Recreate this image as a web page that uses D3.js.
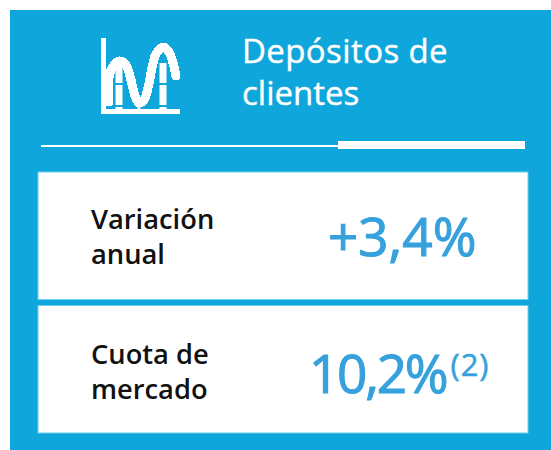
<!DOCTYPE html>
<html>
<head>
<meta charset="utf-8">
<script src="https://cdn.jsdelivr.net/npm/d3@7"></script>
<style>
  html, body { margin: 0; padding: 0; background: #fff; }
  svg { display: block; }
  text { font-family: "Open Sans", sans-serif; }
</style>
</head>
<body>
<script>
const width = 551, height = 450;

const titleLines = ["Depósitos de", "clientes"];
const rowLabels = [["Variación", "anual"], ["Cuota de", "mercado"]];
const rowValues = ["+3,4%", "10,2%"];
const rowNotes = ["", "(2)"];

// icon curve, in icon pixels
const iconCurveX = [3, 3, 6, 13, 20, 25, 29, 33, 38, 42, 46, 50, 57, 63, 67, 70];
const iconCurveY = [64, 40, 30, 23, 27, 42, 58, 65, 62, 50, 30, 16, 9, 14, 25, 38];
const iconDropsX = [13, 33, 57];

const blue = "#0fa6dc";
const valueBlue = "#36a1dc";

const svg = d3.select("body").append("svg")
  .attr("width", width)
  .attr("height", height);

svg.append("rect")
  .attr("x", 10).attr("y", 10)
  .attr("width", 541).attr("height", 440)
  .attr("fill", blue);

// Icon
const iconX = d3.scaleLinear().domain([0, 72]).range([106, 178]);
const iconY = d3.scaleLinear().domain([0, 72]).range([38, 110]);
const icon = svg.append("g").attr("fill", "none").attr("stroke", "#fff");

icon.append("path")
  .attr("d", `M${iconX(-2.5)},${iconY(0)}V${iconY(73.5)}H${iconX(74)}`)
  .attr("stroke-width", 5);

icon.append("path")
  .attr("d", d3.line()
    .x((d, i) => iconX(iconCurveX[i]))
    .y(d => iconY(d))
    .curve(d3.curveCatmullRom)(iconCurveY))
  .attr("stroke-width", 9)
  .attr("stroke-linecap", "round")
  .attr("shape-rendering", "crispEdges");

icon.selectAll("line.drop")
  .data(iconDropsX)
  .join("line")
    .attr("class", "drop")
    .attr("x1", d => iconX(d))
    .attr("x2", d => iconX(d))
    .attr("y1", d => d === 33 ? iconY(65) : iconY(25))
    .attr("y2", iconY(72))
    .attr("stroke-width", d => d === 33 ? 3 : 7)
    .attr("stroke-dasharray", d => d === 33 ? null : "20 2");

// Title
svg.append("text")
  .attr("fill", "#fff")
  .attr("stroke", "#fff")
  .attr("stroke-width", 0.4)
  .attr("font-size", 33)
  .selectAll("tspan")
  .data(titleLines)
  .join("tspan")
    .attr("x", 242)
    .attr("y", (d, i) => 63 + i * 42)
    .attr("letter-spacing", (d, i) => i === 0 ? 0.4 : 0)
    .text(d => d);

// Rule under the title
svg.append("rect").attr("x", 41).attr("y", 145).attr("width", 298).attr("height", 2).attr("fill", "#fff");
svg.append("rect").attr("x", 338).attr("y", 141).attr("width", 187).attr("height", 8).attr("fill", "#fff");

// Rows
const rowY = d3.scaleBand().domain(d3.range(rowLabels.length)).range([172, 433]).paddingInner(0.045);

const row = svg.selectAll("g.row")
  .data(rowLabels)
  .join("g")
    .attr("class", "row")
    .attr("transform", (d, i) => `translate(0,${rowY(i)})`);

row.append("rect")
  .attr("x", 38)
  .attr("width", 490)
  .attr("height", rowY.bandwidth())
  .attr("fill", "#fff")
  .attr("stroke", "#6fcdee")
  .attr("stroke-width", 1);

row.append("text")
  .attr("fill", "#111")
  .attr("font-size", 27.3)
  .attr("font-weight", 600)
  .selectAll("tspan")
  .data(d => d)
  .join("tspan")
    .attr("x", 91)
    .attr("y", d => {
      const rowIndex = rowLabels.findIndex(r => r.includes(d));
      const lineIndex = rowLabels[rowIndex].indexOf(d);
      return (rowIndex === 0 ? 57 : 58) + lineIndex * 35;
    })
    .text(d => d);

row.append("text")
  .attr("fill", valueBlue)
  .attr("stroke", valueBlue)
  .attr("stroke-width", 1.1)
  .attr("font-size", 53)
  .attr("y", (d, i) => i === 0 ? 84 : 87)
  .attr("x", (d, i) => i === 0 ? 328 : 309)
  .attr("letter-spacing", (d, i) => i === 0 ? 0 : -2.2)
  .text((d, i) => rowValues[i]);

row.append("text")
  .attr("fill", valueBlue)
  .attr("stroke", valueBlue)
  .attr("stroke-width", 0.5)
  .attr("font-size", 31)
  .attr("x", 450.5)
  .attr("y", 70)
  .attr("letter-spacing", 1)
  .text((d, i) => rowNotes[i]);
</script>
</body>
</html>
